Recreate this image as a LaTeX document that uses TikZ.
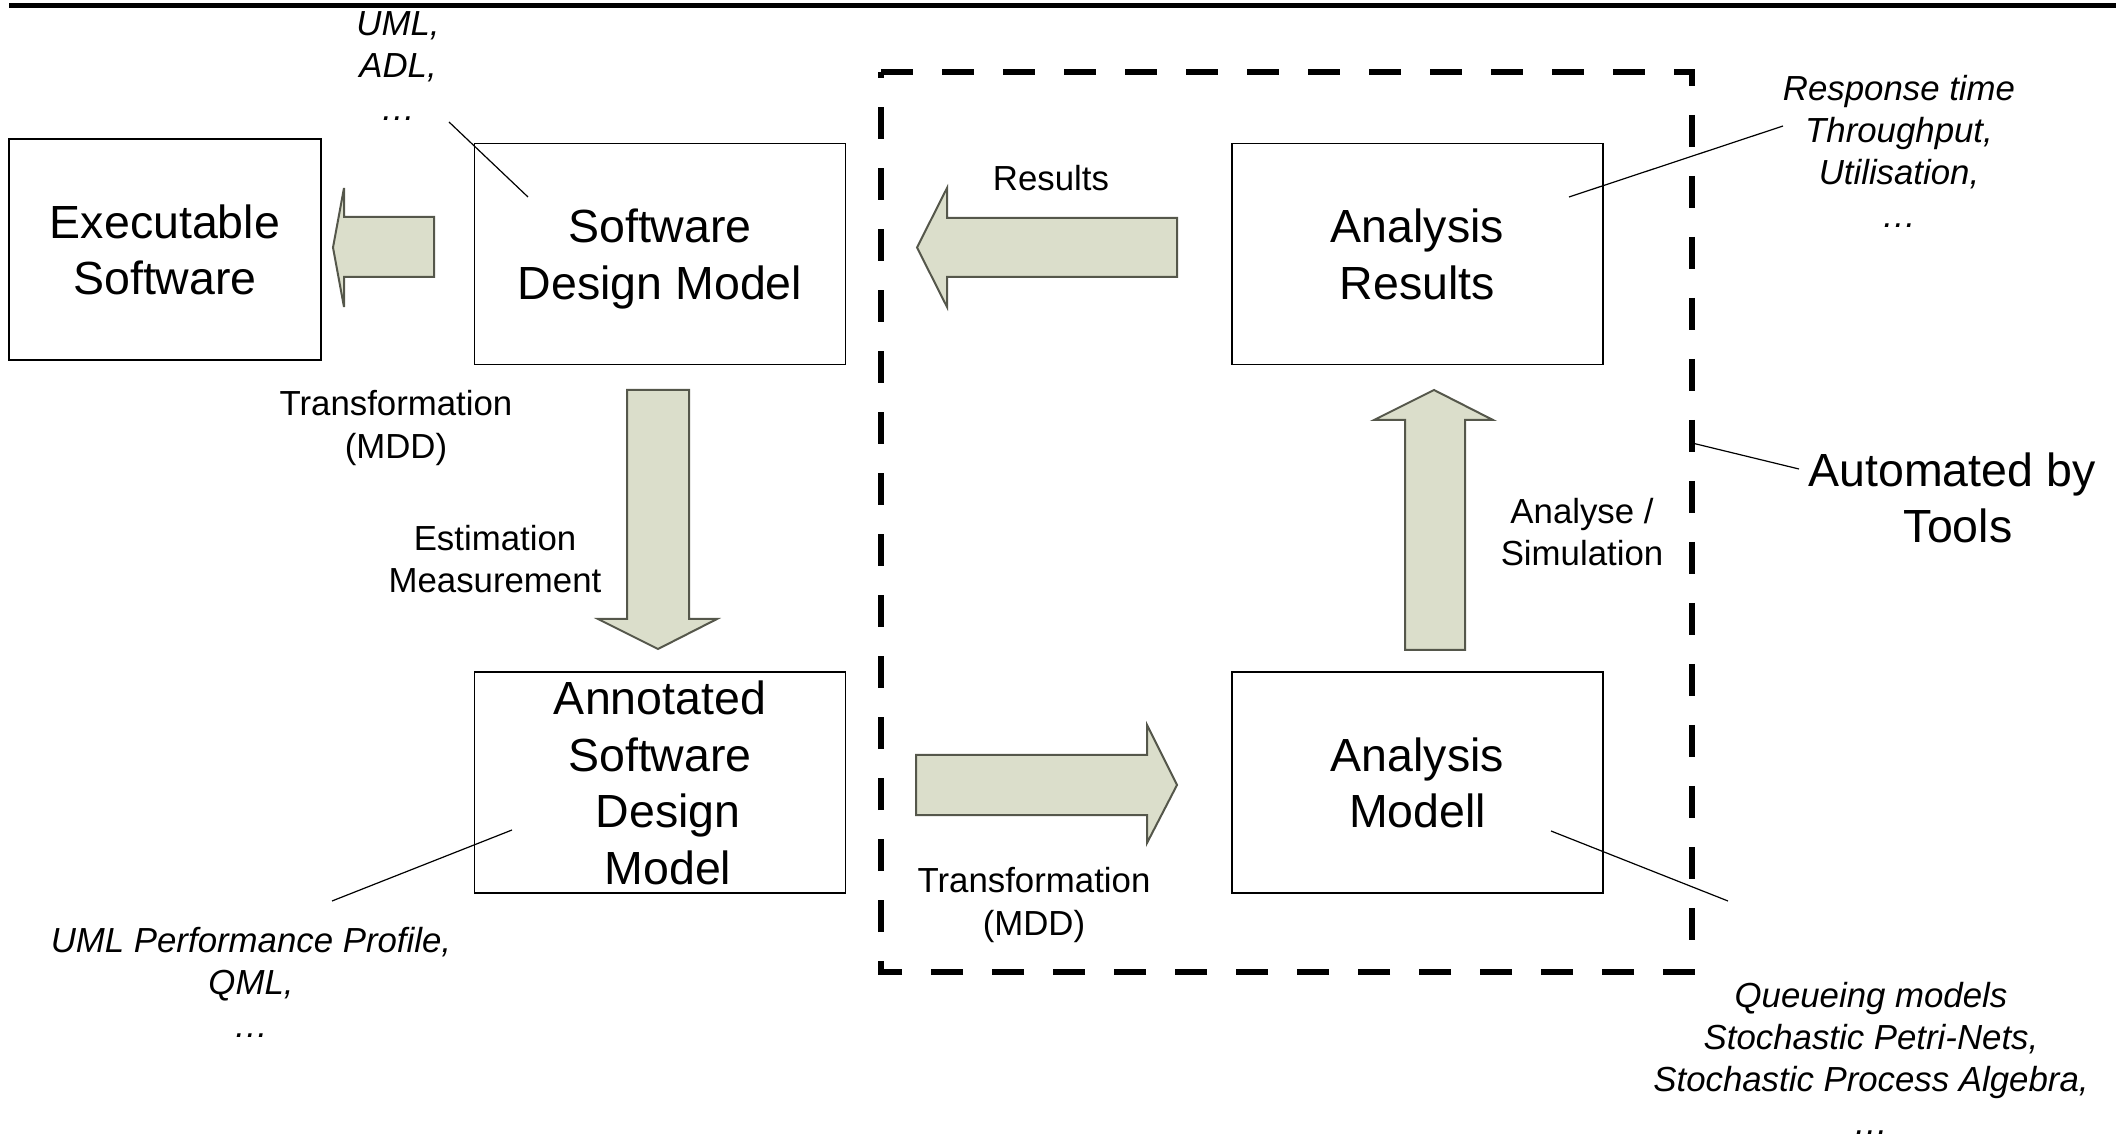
\documentclass[tikz,border=0pt]{standalone}
\usepackage{fontspec}
\setmainfont{Liberation Sans}
\newcommand{\dgbig}{\fontsize{23.25pt}{28.3pt}\selectfont}
\newcommand{\dgsmall}{\fontsize{17.4pt}{21.2pt}\selectfont}
\definecolor{arrowfill}{RGB}{219,222,203}
\definecolor{arrowline}{RGB}{85,87,75}
\tikzset{
  box/.style={draw, line width=0.8pt, inner sep=0pt, minimum width=185.5pt,
    minimum height=110.5pt, align=center, font=\dgbig, text depth=0pt},
  blockarrow/.style={fill=arrowfill, draw=arrowline, line width=1pt, line join=miter},
  lbl/.style={align=center, font=\dgsmall, inner sep=0pt},
  note/.style={align=center, font=\dgsmall\itshape, inner sep=0pt},
  leader/.style={line width=0.6pt},
  toolbox/.style={line width=3pt, dash pattern=on 16pt off 14.5pt},
}
\begin{document}
\begin{tikzpicture}[x=0.5pt, y=-0.5pt]
\useasboundingbox (0,0) rectangle (2116,1138);

% rule along the top edge
\draw[line width=2.8pt] (9,5.5) -- (2116,5.5);

% tool-supported part of the process
\draw[toolbox] (881,72) -- (1692,72) -- (1692,972) -- (881,972) -- cycle;

% model boxes
\node[box, minimum width=156pt] (exe) at (165,249.5) {Executable\\Software};
\node[box] (sdm)  at (660,254)    {Software\\Design Model};
\node[box] (asdm) at (660,782.5)  {Annotated\\Software\\\hspace*{8pt}Design\\\hspace*{8pt}Model};
\node[box] (ares) at (1417.5,254) {Analysis\\Results};
\node[box] (amod) at (1417.5,782.5) {Analysis\\Modell};

% block arrows between the models
\draw[blockarrow] (434,217) -- (344,217) -- (344,188) -- (333,247.5)
  -- (344,307) -- (344,277) -- (434,277) -- cycle;
\draw[blockarrow] (1177,218) -- (947,218) -- (947,188) -- (917,247.5)
  -- (947,307) -- (947,277) -- (1177,277) -- cycle;
\draw[blockarrow] (627,390) -- (689,390) -- (689,619) -- (717,619)
  -- (658,649) -- (598,619) -- (627,619) -- cycle;
\draw[blockarrow] (1405,650) -- (1405,420) -- (1374,420) -- (1434,390)
  -- (1493,420) -- (1465,420) -- (1465,650) -- cycle;
\draw[blockarrow] (916,755) -- (1147,755) -- (1147,725) -- (1177,785)
  -- (1147,843) -- (1147,815) -- (916,815) -- cycle;

% step labels
\node[lbl] (lres) at (1051,178) {Results};
\node[lbl] (ltr1) at (396,428) {Transformation\\(MDD)};
\node[lbl] (lest) at (495,559) {Estimation\\Measurement};
\node[lbl] (lana) at (1582,532) {Analyse /\\Simulation};
\node[lbl] (ltr2) at (1034,905) {Transformation\\(MDD)};
\node[align=center, font=\dgbig, inner sep=0pt] (auto) at (1952,498) {Automated by\\\hspace*{6pt}Tools};

% example notations
\node[note] (numl)  at (398,66)   {UML,\\ADL,\\…};
\node[note] (nresp) at (1899,151) {Response time\\Throughput,\\Utilisation,\\…};
\node[note] (nperf) at (251,982)  {UML Performance Profile,\\QML,\\…};
\node[note] (nque)  at (1871,1058) {Queueing models\\Stochastic Petri-Nets,\\Stochastic Process Algebra,\\…};

% leader lines
\coordinate (umlA) at (449,122);   \coordinate (umlB) at (528,197);
\coordinate (respA) at (1783,126); \coordinate (respB) at (1569,197);
\coordinate (perfA) at (332,901);  \coordinate (perfB) at (512,830);
\coordinate (queA) at (1551,831);  \coordinate (queB) at (1728,901);
\coordinate (autoA) at (1692,443); \coordinate (autoB) at (1799,469);
\draw[leader] (umlA) -- (umlB);
\draw[leader] (respA) -- (respB);
\draw[leader] (perfA) -- (perfB);
\draw[leader] (queA) -- (queB);
\draw[leader] (autoA) -- (autoB);
\end{tikzpicture}
\end{document}
